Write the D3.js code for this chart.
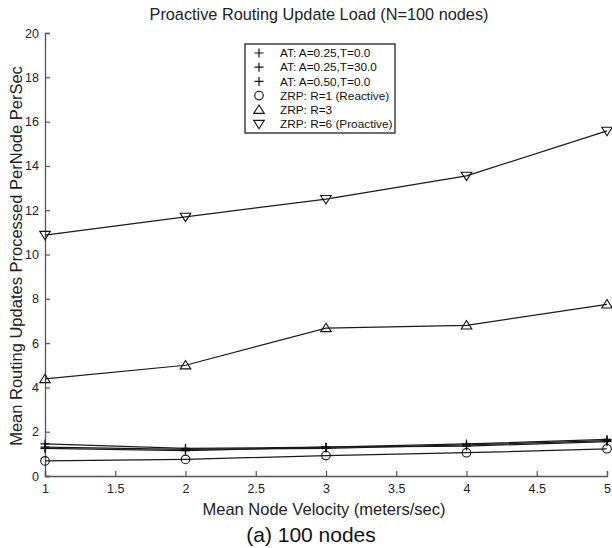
<!DOCTYPE html>
<html>
<head>
<meta charset="utf-8">
<script src="https://cdn.jsdelivr.net/npm/d3@7"></script>
<style>
  body { margin: 0; background: #fff; }
  svg { font-family: "Liberation Sans", Arial, Helvetica, sans-serif; }
</style>
</head>
<body>
<svg id="chart" width="612" height="548"></svg>
<script>
const velocity = [1, 2, 3, 4, 5];
const at025_0  = [1.30, 1.20, 1.25, 1.40, 1.60];
const at025_30 = [1.45, 1.25, 1.30, 1.45, 1.65];
const at050_0  = [1.25, 1.15, 1.30, 1.35, 1.55];
const zrp1 = [0.68, 0.75, 0.92, 1.05, 1.23];
const zrp3 = [4.38, 5.00, 6.68, 6.80, 7.75];
const zrp6 = [10.88, 11.70, 12.50, 13.55, 15.58];

const xTicks = [1, 1.5, 2, 2.5, 3, 3.5, 4, 4.5, 5];
const yTicks = [0, 2, 4, 6, 8, 10, 12, 14, 16, 18, 20];

const series = [
  { name: "AT: A=0.25,T=0.0",     values: at025_0,  sym: "plus" },
  { name: "AT: A=0.25,T=30.0",    values: at025_30, sym: "plus" },
  { name: "AT: A=0.50,T=0.0",     values: at050_0,  sym: "plus" },
  { name: "ZRP: R=1 (Reactive)",  values: zrp1,     sym: "circle" },
  { name: "ZRP: R=3",             values: zrp3,     sym: "up" },
  { name: "ZRP: R=6 (Proactive)", values: zrp6,     sym: "down" },
];

const svg = d3.select("#chart");
const m = { left: 45, right: 607, top: 33, bottom: 476 };

const x = d3.scaleLinear().domain([1, 5]).range([m.left, m.right]);
const y = d3.scaleLinear().domain([0, 20]).range([m.bottom, m.top]);

const axisColor = "#555";

// axes, ticks pointing inward
const xAxis = svg.append("g")
  .attr("transform", `translate(0,${m.bottom})`)
  .call(d3.axisBottom(x).tickValues(xTicks).tickSize(-5).tickPadding(6)
    .tickFormat(d3.format("")));
const yAxis = svg.append("g")
  .attr("transform", `translate(${m.left},0)`)
  .call(d3.axisLeft(y).tickValues(yTicks).tickSize(-5).tickPadding(6));

[xAxis, yAxis].forEach(a => {
  a.select(".domain").attr("stroke", axisColor).attr("stroke-width", 1.3);
  a.selectAll(".tick line").attr("stroke", axisColor).attr("stroke-width", 1.2);
  a.selectAll(".tick text").attr("font-size", 12.5).attr("fill", "#222");
});
xAxis.selectAll(".tick text").attr("dy", "0.85em");

function drawMarker(g, sym, cx, cy) {
  if (sym === "plus") {
    g.append("path")
      .attr("d", `M${cx - 4.5},${cy}H${cx + 4.5}M${cx},${cy - 4.5}V${cy + 4.5}`)
      .attr("stroke", "#111").attr("stroke-width", 1.2).attr("fill", "none");
  } else if (sym === "circle") {
    g.append("circle").attr("cx", cx).attr("cy", cy).attr("r", 4.3)
      .attr("stroke", "#111").attr("stroke-width", 1.1).attr("fill", "none");
  } else {
    const s = sym === "up" ? 1 : -1;
    g.append("path")
      .attr("d", `M${cx},${cy - 4.8 * s}L${cx + 5.3},${cy + 3.6 * s}L${cx - 5.3},${cy + 3.6 * s}Z`)
      .attr("stroke", "#111").attr("stroke-width", 1.1).attr("fill", "none");
  }
}

const line = d3.line().x((d, i) => x(velocity[i])).y(d => y(d));

const plot = svg.append("g");
series.forEach(s => {
  plot.append("path")
    .datum(s.values)
    .attr("d", line)
    .attr("fill", "none")
    .attr("stroke", "#1a1a1a")
    .attr("stroke-width", 1.25);
  const mg = plot.append("g");
  s.values.forEach((v, i) => drawMarker(mg, s.sym, x(velocity[i]), y(v)));
});

// legend
const lg = svg.append("g");
lg.append("rect")
  .attr("x", 245).attr("y", 44).attr("width", 150).attr("height", 89)
  .attr("fill", "#fff").attr("stroke", "#111").attr("stroke-width", 1.2);
series.forEach((s, i) => {
  const yy = 53 + i * 14.2;
  drawMarker(lg, s.sym, 259, yy);
  lg.append("text")
    .attr("x", 280).attr("y", yy).attr("dy", "0.35em")
    .attr("font-size", 11.8).attr("fill", "#111")
    .text(s.name);
});

// titles
svg.append("text")
  .attr("x", 319).attr("y", 20).attr("text-anchor", "middle")
  .attr("font-size", 16.3).attr("fill", "#222")
  .text("Proactive Routing Update Load (N=100 nodes)");

svg.append("text")
  .attr("x", 324).attr("y", 515).attr("text-anchor", "middle")
  .attr("font-size", 16.5).attr("fill", "#222")
  .text("Mean Node Velocity (meters/sec)");

svg.append("text")
  .attr("transform", `translate(22,256) rotate(-90)`)
  .attr("text-anchor", "middle")
  .attr("font-size", 16.5).attr("fill", "#222")
  .text("Mean Routing Updates Processed PerNode PerSec");

svg.append("text")
  .attr("x", 311).attr("y", 542).attr("text-anchor", "middle")
  .attr("font-size", 21).attr("fill", "#111")
  .text("(a) 100 nodes");
</script>
</body>
</html>
